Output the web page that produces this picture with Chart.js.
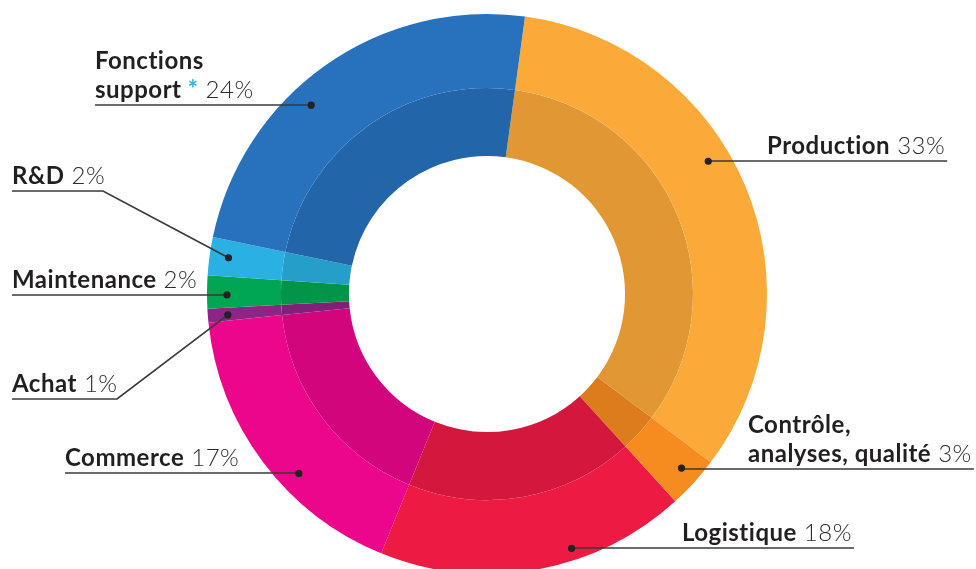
<!DOCTYPE html>
<html>
<head>
<meta charset="utf-8">
<script src="https://cdn.jsdelivr.net/npm/chart.js@4.4.1/dist/chart.umd.min.js"></script>
<style>
html, body { margin: 0; padding: 0; background: #fff; overflow: hidden; }
#wrap { width: 976px; height: 569px; }
</style>
</head>
<body>
<div id="wrap"><canvas id="chart-area" width="976" height="569"></canvas></div>
<script>
// parts of the workforce, clockwise from the top
var categories = [['Production'], ['Contrôle,', 'analyses, qualité'], ['Logistique'], ['Commerce'],
    ['Achat'], ['Maintenance'], ['R&D'], ['Fonctions', 'support']];
var shares = [33.1, 3.0, 17.9, 17.2, 0.8, 1.9, 2.2, 23.9];
var starred = [false, false, false, false, false, false, false, true];
var sliceColors = ['#fbaa3a', '#f68b20', '#ed1a43', '#ec068c', '#8f2487', '#00a651', '#2ab0e2', '#2771bd'];

// where each label sits (frac = position of the dot inside its slice)
var labelPos = [
    { side: 'right', x: 767, lineY: 161, frac: 0.43, r: 258 },
    { side: 'right', x: 748, lineY: 469, frac: 0.45, r: 261 },
    { side: 'right', x: 682, lineY: 548, frac: 0.37, r: 268 },
    { side: 'left', x: 65, lineY: 473, frac: 0.39, r: 260 },
    { side: 'left', x: 12, lineY: 399, frac: 0.44, r: 260, elbow: 117 },
    { side: 'left', x: 12, lineY: 295, frac: 0.41, r: 260 },
    { side: 'left', x: 12, lineY: 191, frac: 0.52, r: 261, elbow: 103 },
    { side: 'left', x: 95, lineY: 105, frac: 0.41, r: 258 }
];

function darker(hex, k) {
    var n = parseInt(hex.slice(1), 16);
    var r = Math.round(((n >> 16) & 255) * k);
    var g = Math.round(((n >> 8) & 255) * k);
    var b = Math.round((n & 255) * k);
    return 'rgb(' + r + ',' + g + ',' + b + ')';
}

var boldFont = 'bold 24px Lato';
var lightFont = '300 24px Lato';

var calloutPlugin = {
    id: 'callouts',
    afterDraw: function (chart) {
        var ctx = chart.ctx;
        var arcs = chart.getDatasetMeta(0).data;
        ctx.save();
        ctx.textBaseline = 'alphabetic';
        ctx.letterSpacing = '0.5px';
        arcs.forEach(function (arc, i) {
            var p = labelPos[i];
            var a = arc.startAngle + (arc.endAngle - arc.startAngle) * p.frac;
            var dx = arc.x + Math.cos(a) * p.r;
            var dy = arc.y + Math.sin(a) * p.r;
            var lines = categories[i];
            var pct = ' ' + Math.round(shares[i]) + '%';
            var base = p.lineY - 7.5;

            // text
            var width = 0;
            for (var j = 0; j < lines.length; j++) {
                var y = base - (lines.length - 1 - j) * 29;
                ctx.font = boldFont;
                ctx.fillStyle = '#231f20';
                ctx.fillText(lines[j], p.x, y);
                var w = ctx.measureText(lines[j]).width;
                if (j === lines.length - 1) {
                    if (starred[i]) {
                        ctx.font = boldFont;
                        ctx.fillStyle = '#2ab0e2';
                        ctx.fillText(' *', p.x + w, y);
                        w += ctx.measureText(' *').width;
                    }
                    ctx.font = lightFont;
                    ctx.fillStyle = '#2b2b2b';
                    ctx.fillText(pct, p.x + w, y);
                    w += ctx.measureText(pct).width;
                }
                width = Math.max(width, w);
            }

            // underline + leader
            var outer = p.side === 'left' ? p.x : p.x + width + 2;
            var elbow = p.elbow !== undefined ? p.elbow : dx;
            ctx.strokeStyle = '#3a3a3a';
            ctx.lineWidth = 1.7;
            ctx.beginPath();
            ctx.moveTo(outer, p.lineY);
            ctx.lineTo(elbow, p.lineY);
            ctx.lineTo(dx, dy);
            ctx.stroke();

            ctx.fillStyle = '#222';
            ctx.beginPath();
            ctx.arc(dx, dy, 3.6, 0, Math.PI * 2);
            ctx.fill();
        });
        ctx.restore();
    }
};

var config = {
    type: 'doughnut',
    data: {
        labels: categories,
        datasets: [{
            data: shares,
            backgroundColor: sliceColors,
            borderWidth: 0,
            weight: 74,
            clip: false
        }, {
            data: shares,
            backgroundColor: sliceColors.map(function (c) { return darker(c, 0.895); }),
            borderWidth: 0,
            weight: 68,
            clip: false
        }]
    },
    options: {
        responsive: false,
        animation: false,
        rotation: 7.8,
        radius: 280,
        cutout: '49.3%',
        layout: { padding: { top: 19, bottom: 0, left: 0, right: 2 } },
        plugins: {
            legend: { display: false },
            tooltip: { enabled: false }
        }
    },
    plugins: [calloutPlugin]
};

var ctx = document.getElementById('chart-area').getContext('2d');
window.myPie = new Chart(ctx, config);
</script>
</body>
</html>
